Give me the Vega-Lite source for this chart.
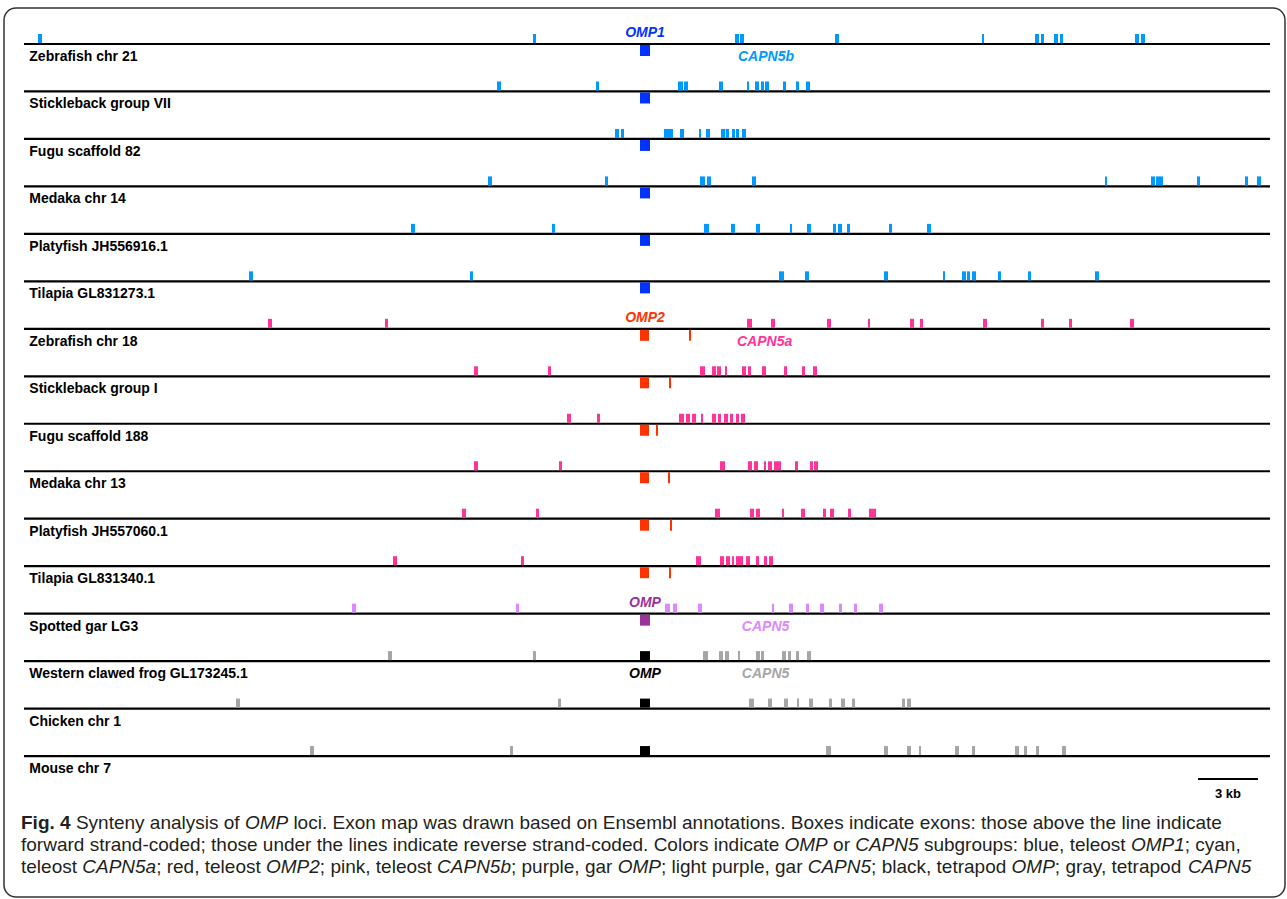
{
  "$schema": "https://vega.github.io/schema/vega-lite/v6.json",
  "width": 1287,
  "height": 899,
  "autosize": {"type": "fit", "contains": "padding"},
  "padding": {"left": 4, "top": 8, "right": 2, "bottom": 2},
  "background": "white",
  "config": {
    "view": {"stroke": "#333333", "strokeWidth": 1.5, "cornerRadius": 12},
    "font": "Liberation Sans"
  },
  "datasets": {
    "tracks": [
      {"t": 0, "name": "Zebrafish chr 21", "a": -31.05, "b": 31.25},
      {"t": 1, "name": "Stickleback group VII", "a": -31.05, "b": 31.25},
      {"t": 2, "name": "Fugu scaffold 82", "a": -31.05, "b": 31.25},
      {"t": 3, "name": "Medaka chr 14", "a": -31.05, "b": 31.25},
      {"t": 4, "name": "Platyfish JH556916.1", "a": -31.05, "b": 31.25},
      {"t": 5, "name": "Tilapia GL831273.1", "a": -31.05, "b": 31.25},
      {"t": 6, "name": "Zebrafish chr 18", "a": -31.05, "b": 31.25},
      {"t": 7, "name": "Stickleback group I", "a": -31.05, "b": 31.25},
      {"t": 8, "name": "Fugu scaffold 188", "a": -31.05, "b": 31.25},
      {"t": 9, "name": "Medaka chr 13", "a": -31.05, "b": 31.25},
      {"t": 10, "name": "Platyfish JH557060.1", "a": -31.05, "b": 31.25},
      {"t": 11, "name": "Tilapia GL831340.1", "a": -31.05, "b": 31.25},
      {"t": 12, "name": "Spotted gar LG3", "a": -31.05, "b": 31.25},
      {"t": 13, "name": "Western clawed frog GL173245.1", "a": -31.05, "b": 31.25},
      {"t": 14, "name": "Chicken chr 1", "a": -31.05, "b": 31.25},
      {"t": 15, "name": "Mouse chr 7", "a": -31.05, "b": 31.25}
    ],
    "exons": [
      {"t":0,"s":-30.35,"e":-30.15,"g":"CAPN5b","d":"f"},{"t":0,"s":-5.6,"e":-5.45,"g":"CAPN5b","d":"f"},{"t":0,"s":4.5,"e":4.7,"g":"CAPN5b","d":"f"},{"t":0,"s":4.75,"e":4.95,"g":"CAPN5b","d":"f"},{"t":0,"s":9.5,"e":9.7,"g":"CAPN5b","d":"f"},{"t":0,"s":16.85,"e":16.95,"g":"CAPN5b","d":"f"},{"t":0,"s":19.5,"e":19.7,"g":"CAPN5b","d":"f"},{"t":0,"s":19.8,"e":19.95,"g":"CAPN5b","d":"f"},{"t":0,"s":20.45,"e":20.65,"g":"CAPN5b","d":"f"},{"t":0,"s":20.75,"e":20.9,"g":"CAPN5b","d":"f"},{"t":0,"s":24.5,"e":24.7,"g":"CAPN5b","d":"f"},{"t":0,"s":24.8,"e":25.0,"g":"CAPN5b","d":"f"},{"t":0,"s":-0.25,"e":0.25,"g":"OMP1","d":"r"},
      {"t":1,"s":-7.4,"e":-7.2,"g":"CAPN5b","d":"f"},{"t":1,"s":-2.45,"e":-2.3,"g":"CAPN5b","d":"f"},{"t":1,"s":1.65,"e":1.9,"g":"CAPN5b","d":"f"},{"t":1,"s":1.95,"e":2.15,"g":"CAPN5b","d":"f"},{"t":1,"s":3.7,"e":3.9,"g":"CAPN5b","d":"f"},{"t":1,"s":5.1,"e":5.2,"g":"CAPN5b","d":"f"},{"t":1,"s":5.5,"e":5.7,"g":"CAPN5b","d":"f"},{"t":1,"s":5.8,"e":5.95,"g":"CAPN5b","d":"f"},{"t":1,"s":6.0,"e":6.2,"g":"CAPN5b","d":"f"},{"t":1,"s":6.9,"e":7.05,"g":"CAPN5b","d":"f"},{"t":1,"s":7.55,"e":7.7,"g":"CAPN5b","d":"f"},{"t":1,"s":8.05,"e":8.25,"g":"CAPN5b","d":"f"},{"t":1,"s":-0.25,"e":0.25,"g":"OMP1","d":"r"},
      {"t":2,"s":-1.5,"e":-1.3,"g":"CAPN5b","d":"f"},{"t":2,"s":-1.2,"e":-1.05,"g":"CAPN5b","d":"f"},{"t":2,"s":0.95,"e":1.4,"g":"CAPN5b","d":"f"},{"t":2,"s":1.75,"e":1.95,"g":"CAPN5b","d":"f"},{"t":2,"s":2.7,"e":2.8,"g":"CAPN5b","d":"f"},{"t":2,"s":3.05,"e":3.25,"g":"CAPN5b","d":"f"},{"t":2,"s":3.8,"e":4.0,"g":"CAPN5b","d":"f"},{"t":2,"s":4.03,"e":4.2,"g":"CAPN5b","d":"f"},{"t":2,"s":4.35,"e":4.5,"g":"CAPN5b","d":"f"},{"t":2,"s":4.55,"e":4.7,"g":"CAPN5b","d":"f"},{"t":2,"s":4.85,"e":5.05,"g":"CAPN5b","d":"f"},{"t":2,"s":-0.25,"e":0.25,"g":"OMP1","d":"r"},
      {"t":3,"s":-7.85,"e":-7.65,"g":"CAPN5b","d":"f"},{"t":3,"s":-2.0,"e":-1.85,"g":"CAPN5b","d":"f"},{"t":3,"s":2.75,"e":3.0,"g":"CAPN5b","d":"f"},{"t":3,"s":3.1,"e":3.3,"g":"CAPN5b","d":"f"},{"t":3,"s":5.35,"e":5.55,"g":"CAPN5b","d":"f"},{"t":3,"s":23.0,"e":23.1,"g":"CAPN5b","d":"f"},{"t":3,"s":25.3,"e":25.5,"g":"CAPN5b","d":"f"},{"t":3,"s":25.55,"e":25.9,"g":"CAPN5b","d":"f"},{"t":3,"s":27.6,"e":27.75,"g":"CAPN5b","d":"f"},{"t":3,"s":30.0,"e":30.15,"g":"CAPN5b","d":"f"},{"t":3,"s":30.6,"e":30.8,"g":"CAPN5b","d":"f"},{"t":3,"s":-0.25,"e":0.25,"g":"OMP1","d":"r"},
      {"t":4,"s":-11.7,"e":-11.5,"g":"CAPN5b","d":"f"},{"t":4,"s":-4.65,"e":-4.5,"g":"CAPN5b","d":"f"},{"t":4,"s":2.95,"e":3.2,"g":"CAPN5b","d":"f"},{"t":4,"s":4.3,"e":4.5,"g":"CAPN5b","d":"f"},{"t":4,"s":5.55,"e":5.75,"g":"CAPN5b","d":"f"},{"t":4,"s":7.25,"e":7.35,"g":"CAPN5b","d":"f"},{"t":4,"s":8.1,"e":8.3,"g":"CAPN5b","d":"f"},{"t":4,"s":9.4,"e":9.55,"g":"CAPN5b","d":"f"},{"t":4,"s":9.65,"e":9.85,"g":"CAPN5b","d":"f"},{"t":4,"s":10.1,"e":10.25,"g":"CAPN5b","d":"f"},{"t":4,"s":12.2,"e":12.35,"g":"CAPN5b","d":"f"},{"t":4,"s":14.1,"e":14.3,"g":"CAPN5b","d":"f"},{"t":4,"s":-0.25,"e":0.25,"g":"OMP1","d":"r"},
      {"t":5,"s":-19.8,"e":-19.6,"g":"CAPN5b","d":"f"},{"t":5,"s":-8.75,"e":-8.6,"g":"CAPN5b","d":"f"},{"t":5,"s":6.7,"e":6.95,"g":"CAPN5b","d":"f"},{"t":5,"s":8.0,"e":8.2,"g":"CAPN5b","d":"f"},{"t":5,"s":11.95,"e":12.15,"g":"CAPN5b","d":"f"},{"t":5,"s":14.9,"e":15.0,"g":"CAPN5b","d":"f"},{"t":5,"s":15.85,"e":16.05,"g":"CAPN5b","d":"f"},{"t":5,"s":16.1,"e":16.25,"g":"CAPN5b","d":"f"},{"t":5,"s":16.35,"e":16.55,"g":"CAPN5b","d":"f"},{"t":5,"s":17.65,"e":17.8,"g":"CAPN5b","d":"f"},{"t":5,"s":19.15,"e":19.3,"g":"CAPN5b","d":"f"},{"t":5,"s":22.5,"e":22.7,"g":"CAPN5b","d":"f"},{"t":5,"s":-0.25,"e":0.25,"g":"OMP1","d":"r"},
      {"t":6,"s":-18.85,"e":-18.65,"g":"CAPN5a","d":"f"},{"t":6,"s":-13.0,"e":-12.85,"g":"CAPN5a","d":"f"},{"t":6,"s":5.1,"e":5.35,"g":"CAPN5a","d":"f"},{"t":6,"s":6.3,"e":6.5,"g":"CAPN5a","d":"f"},{"t":6,"s":9.1,"e":9.3,"g":"CAPN5a","d":"f"},{"t":6,"s":11.15,"e":11.25,"g":"CAPN5a","d":"f"},{"t":6,"s":13.25,"e":13.45,"g":"CAPN5a","d":"f"},{"t":6,"s":13.75,"e":13.9,"g":"CAPN5a","d":"f"},{"t":6,"s":16.9,"e":17.1,"g":"CAPN5a","d":"f"},{"t":6,"s":19.8,"e":19.95,"g":"CAPN5a","d":"f"},{"t":6,"s":21.2,"e":21.35,"g":"CAPN5a","d":"f"},{"t":6,"s":24.25,"e":24.45,"g":"CAPN5a","d":"f"},{"t":6,"s":-0.25,"e":0.2,"g":"OMP2","d":"r"},{"t":6,"s":2.2,"e":2.3,"g":"OMP2","d":"r"},
      {"t":7,"s":-8.55,"e":-8.35,"g":"CAPN5a","d":"f"},{"t":7,"s":-4.85,"e":-4.7,"g":"CAPN5a","d":"f"},{"t":7,"s":2.75,"e":3.0,"g":"CAPN5a","d":"f"},{"t":7,"s":3.35,"e":3.55,"g":"CAPN5a","d":"f"},{"t":7,"s":3.6,"e":3.8,"g":"CAPN5a","d":"f"},{"t":7,"s":4.0,"e":4.1,"g":"CAPN5a","d":"f"},{"t":7,"s":4.85,"e":5.05,"g":"CAPN5a","d":"f"},{"t":7,"s":5.15,"e":5.3,"g":"CAPN5a","d":"f"},{"t":7,"s":5.85,"e":6.05,"g":"CAPN5a","d":"f"},{"t":7,"s":6.95,"e":7.1,"g":"CAPN5a","d":"f"},{"t":7,"s":7.85,"e":8.0,"g":"CAPN5a","d":"f"},{"t":7,"s":8.4,"e":8.6,"g":"CAPN5a","d":"f"},{"t":7,"s":-0.25,"e":0.2,"g":"OMP2","d":"r"},{"t":7,"s":1.2,"e":1.3,"g":"OMP2","d":"r"},
      {"t":8,"s":-3.9,"e":-3.7,"g":"CAPN5a","d":"f"},{"t":8,"s":-2.4,"e":-2.25,"g":"CAPN5a","d":"f"},{"t":8,"s":1.7,"e":1.95,"g":"CAPN5a","d":"f"},{"t":8,"s":2.05,"e":2.25,"g":"CAPN5a","d":"f"},{"t":8,"s":2.35,"e":2.55,"g":"CAPN5a","d":"f"},{"t":8,"s":2.8,"e":2.9,"g":"CAPN5a","d":"f"},{"t":8,"s":3.35,"e":3.55,"g":"CAPN5a","d":"f"},{"t":8,"s":3.65,"e":3.8,"g":"CAPN5a","d":"f"},{"t":8,"s":3.95,"e":4.15,"g":"CAPN5a","d":"f"},{"t":8,"s":4.25,"e":4.4,"g":"CAPN5a","d":"f"},{"t":8,"s":4.55,"e":4.7,"g":"CAPN5a","d":"f"},{"t":8,"s":4.8,"e":5.0,"g":"CAPN5a","d":"f"},{"t":8,"s":-0.25,"e":0.2,"g":"OMP2","d":"r"},{"t":8,"s":0.55,"e":0.65,"g":"OMP2","d":"r"},
      {"t":9,"s":-8.55,"e":-8.35,"g":"CAPN5a","d":"f"},{"t":9,"s":-4.3,"e":-4.15,"g":"CAPN5a","d":"f"},{"t":9,"s":3.75,"e":4.0,"g":"CAPN5a","d":"f"},{"t":9,"s":5.15,"e":5.35,"g":"CAPN5a","d":"f"},{"t":9,"s":5.45,"e":5.65,"g":"CAPN5a","d":"f"},{"t":9,"s":5.95,"e":6.05,"g":"CAPN5a","d":"f"},{"t":9,"s":6.15,"e":6.35,"g":"CAPN5a","d":"f"},{"t":9,"s":6.45,"e":6.8,"g":"CAPN5a","d":"f"},{"t":9,"s":7.5,"e":7.65,"g":"CAPN5a","d":"f"},{"t":9,"s":8.25,"e":8.4,"g":"CAPN5a","d":"f"},{"t":9,"s":8.45,"e":8.65,"g":"CAPN5a","d":"f"},{"t":9,"s":-0.25,"e":0.2,"g":"OMP2","d":"r"},{"t":9,"s":1.15,"e":1.25,"g":"OMP2","d":"r"},
      {"t":10,"s":-9.15,"e":-8.95,"g":"CAPN5a","d":"f"},{"t":10,"s":-5.45,"e":-5.3,"g":"CAPN5a","d":"f"},{"t":10,"s":3.5,"e":3.75,"g":"CAPN5a","d":"f"},{"t":10,"s":5.25,"e":5.45,"g":"CAPN5a","d":"f"},{"t":10,"s":5.55,"e":5.75,"g":"CAPN5a","d":"f"},{"t":10,"s":6.85,"e":6.95,"g":"CAPN5a","d":"f"},{"t":10,"s":7.8,"e":8.0,"g":"CAPN5a","d":"f"},{"t":10,"s":8.9,"e":9.05,"g":"CAPN5a","d":"f"},{"t":10,"s":9.25,"e":9.45,"g":"CAPN5a","d":"f"},{"t":10,"s":10.15,"e":10.3,"g":"CAPN5a","d":"f"},{"t":10,"s":11.2,"e":11.55,"g":"CAPN5a","d":"f"},{"t":10,"s":-0.25,"e":0.2,"g":"OMP2","d":"r"},{"t":10,"s":1.25,"e":1.35,"g":"OMP2","d":"r"},
      {"t":11,"s":-12.6,"e":-12.4,"g":"CAPN5a","d":"f"},{"t":11,"s":-6.2,"e":-6.05,"g":"CAPN5a","d":"f"},{"t":11,"s":2.55,"e":2.8,"g":"CAPN5a","d":"f"},{"t":11,"s":3.75,"e":3.95,"g":"CAPN5a","d":"f"},{"t":11,"s":4.05,"e":4.25,"g":"CAPN5a","d":"f"},{"t":11,"s":4.35,"e":4.45,"g":"CAPN5a","d":"f"},{"t":11,"s":4.55,"e":4.9,"g":"CAPN5a","d":"f"},{"t":11,"s":5.05,"e":5.25,"g":"CAPN5a","d":"f"},{"t":11,"s":5.55,"e":5.7,"g":"CAPN5a","d":"f"},{"t":11,"s":5.95,"e":6.1,"g":"CAPN5a","d":"f"},{"t":11,"s":6.2,"e":6.4,"g":"CAPN5a","d":"f"},{"t":11,"s":-0.25,"e":0.2,"g":"OMP2","d":"r"},{"t":11,"s":1.2,"e":1.3,"g":"OMP2","d":"r"},
      {"t":12,"s":-14.65,"e":-14.45,"g":"garCAPN5","d":"f"},{"t":12,"s":-6.45,"e":-6.3,"g":"garCAPN5","d":"f"},{"t":12,"s":1.0,"e":1.25,"g":"garCAPN5","d":"f"},{"t":12,"s":1.4,"e":1.6,"g":"garCAPN5","d":"f"},{"t":12,"s":2.65,"e":2.85,"g":"garCAPN5","d":"f"},{"t":12,"s":6.35,"e":6.45,"g":"garCAPN5","d":"f"},{"t":12,"s":7.2,"e":7.4,"g":"garCAPN5","d":"f"},{"t":12,"s":8.05,"e":8.2,"g":"garCAPN5","d":"f"},{"t":12,"s":8.75,"e":8.95,"g":"garCAPN5","d":"f"},{"t":12,"s":9.7,"e":9.85,"g":"garCAPN5","d":"f"},{"t":12,"s":10.45,"e":10.6,"g":"garCAPN5","d":"f"},{"t":12,"s":11.7,"e":11.9,"g":"garCAPN5","d":"f"},{"t":12,"s":-0.25,"e":0.25,"g":"garOMP","d":"r"},
      {"t":13,"s":-12.85,"e":-12.65,"g":"tetCAPN5","d":"f"},{"t":13,"s":-5.6,"e":-5.45,"g":"tetCAPN5","d":"f"},{"t":13,"s":2.9,"e":3.15,"g":"tetCAPN5","d":"f"},{"t":13,"s":3.7,"e":3.9,"g":"tetCAPN5","d":"f"},{"t":13,"s":4.0,"e":4.2,"g":"tetCAPN5","d":"f"},{"t":13,"s":4.65,"e":4.75,"g":"tetCAPN5","d":"f"},{"t":13,"s":5.55,"e":5.75,"g":"tetCAPN5","d":"f"},{"t":13,"s":5.8,"e":5.95,"g":"tetCAPN5","d":"f"},{"t":13,"s":6.85,"e":7.05,"g":"tetCAPN5","d":"f"},{"t":13,"s":7.15,"e":7.3,"g":"tetCAPN5","d":"f"},{"t":13,"s":7.55,"e":7.7,"g":"tetCAPN5","d":"f"},{"t":13,"s":8.1,"e":8.3,"g":"tetCAPN5","d":"f"},{"t":13,"s":-0.25,"e":0.25,"g":"tetOMP","d":"f"},
      {"t":14,"s":-20.45,"e":-20.25,"g":"tetCAPN5","d":"f"},{"t":14,"s":-4.35,"e":-4.2,"g":"tetCAPN5","d":"f"},{"t":14,"s":5.2,"e":5.45,"g":"tetCAPN5","d":"f"},{"t":14,"s":6.15,"e":6.35,"g":"tetCAPN5","d":"f"},{"t":14,"s":6.95,"e":7.15,"g":"tetCAPN5","d":"f"},{"t":14,"s":7.6,"e":7.7,"g":"tetCAPN5","d":"f"},{"t":14,"s":8.2,"e":8.4,"g":"tetCAPN5","d":"f"},{"t":14,"s":9.2,"e":9.35,"g":"tetCAPN5","d":"f"},{"t":14,"s":9.8,"e":10.0,"g":"tetCAPN5","d":"f"},{"t":14,"s":10.35,"e":10.5,"g":"tetCAPN5","d":"f"},{"t":14,"s":12.85,"e":13.0,"g":"tetCAPN5","d":"f"},{"t":14,"s":13.1,"e":13.3,"g":"tetCAPN5","d":"f"},{"t":14,"s":-0.25,"e":0.25,"g":"tetOMP","d":"f"},
      {"t":15,"s":-16.75,"e":-16.55,"g":"tetCAPN5","d":"f"},{"t":15,"s":-6.75,"e":-6.6,"g":"tetCAPN5","d":"f"},{"t":15,"s":9.05,"e":9.3,"g":"tetCAPN5","d":"f"},{"t":15,"s":11.95,"e":12.15,"g":"tetCAPN5","d":"f"},{"t":15,"s":13.1,"e":13.3,"g":"tetCAPN5","d":"f"},{"t":15,"s":13.7,"e":13.8,"g":"tetCAPN5","d":"f"},{"t":15,"s":15.5,"e":15.7,"g":"tetCAPN5","d":"f"},{"t":15,"s":16.35,"e":16.5,"g":"tetCAPN5","d":"f"},{"t":15,"s":18.5,"e":18.7,"g":"tetCAPN5","d":"f"},{"t":15,"s":18.95,"e":19.1,"g":"tetCAPN5","d":"f"},{"t":15,"s":19.55,"e":19.7,"g":"tetCAPN5","d":"f"},{"t":15,"s":20.85,"e":21.05,"g":"tetCAPN5","d":"f"},{"t":15,"s":-0.25,"e":0.25,"g":"tetOMP","d":"f"}
    ],
    "genes": [
      {"t": 0, "x": 0, "label": "OMP1", "g": "OMP1", "p": "a"},
      {"t": 0, "x": 6.05, "label": "CAPN5b", "g": "CAPN5b", "p": "b"},
      {"t": 6, "x": 0, "label": "OMP2", "g": "OMP2", "p": "a"},
      {"t": 6, "x": 5.98, "label": "CAPN5a", "g": "CAPN5a", "p": "b"},
      {"t": 12, "x": 0, "label": "OMP", "g": "garOMP", "p": "a"},
      {"t": 12, "x": 6.03, "label": "CAPN5", "g": "garCAPN5", "p": "b"},
      {"t": 13, "x": 0, "label": "OMP", "g": "tetOMP", "p": "b"},
      {"t": 13, "x": 6.03, "label": "CAPN5", "g": "tetCAPN5", "p": "b"}
    ],
    "scalebar": [
      {"a": 27.65, "b": 30.65, "x": 29.15, "y": 15.483, "label": "3 kb"}
    ],
    "caption": [
      {"x": -31.2, "y": 16.537, "text": "Fig. 4", "f": "b"},
      {"x": -28.455, "y": 16.537, "text": "Synteny analysis of", "f": "n"},
      {"x": -20.005, "y": 16.537, "text": "OMP", "f": "i"},
      {"x": -17.58, "y": 16.537, "text": "loci. Exon map was drawn based on Ensembl annotations. Boxes indicate exons: those above the line indicate", "f": "n"},
      {"x": -31.2, "y": 17.0, "text": "forward strand-coded; those under the lines indicate reverse strand-coded. Colors indicate", "f": "n"},
      {"x": 6.975, "y": 17.0, "text": "OMP", "f": "i"},
      {"x": 9.405, "y": 17.0, "text": "or", "f": "n"},
      {"x": 10.51, "y": 17.0, "text": "CAPN5", "f": "i"},
      {"x": 13.945, "y": 17.0, "text": "subgroups: blue, teleost", "f": "n"},
      {"x": 24.295, "y": 17.0, "text": "OMP1", "f": "i"},
      {"x": 26.985, "y": 17.0, "text": "; cyan,", "f": "n"},
      {"x": -31.2, "y": 17.464, "text": "teleost", "f": "n"},
      {"x": -28.137, "y": 17.464, "text": "CAPN5a", "f": "i"},
      {"x": -24.4415, "y": 17.464, "text": "; red, teleost", "f": "n"},
      {"x": -18.95, "y": 17.464, "text": "OMP2", "f": "i"},
      {"x": -16.2575, "y": 17.464, "text": "; pink, teleost", "f": "n"},
      {"x": -10.396, "y": 17.464, "text": "CAPN5b", "f": "i"},
      {"x": -6.7, "y": 17.464, "text": "; purple, gar", "f": "n"},
      {"x": -1.367, "y": 17.464, "text": "OMP", "f": "i"},
      {"x": 0.797, "y": 17.464, "text": "; light purple, gar", "f": "n"},
      {"x": 8.1365, "y": 17.464, "text": "CAPN5", "f": "i"},
      {"x": 11.304, "y": 17.464, "text": "; black, tetrapod", "f": "n"},
      {"x": 18.3275, "y": 17.464, "text": "OMP", "f": "i"},
      {"x": 20.4915, "y": 17.464, "text": "; gray, tetrapod", "f": "n"},
      {"x": 27.145, "y": 17.464, "text": "CAPN5", "f": "i"}
    ]
  },
  "layer": [
    {
      "data": {"name": "tracks"},
      "mark": {"type": "rule", "color": "#000000", "strokeWidth": 2.2},
      "encoding": {
        "x": {"field": "a", "type": "quantitative", "scale": {"domain": [-32.05, 32.0], "nice": false, "zero": false}, "axis": null},
        "x2": {"field": "b"},
        "y": {"field": "t", "type": "quantitative", "scale": {"domain": [-0.7584, 17.969], "nice": false, "zero": false, "reverse": true}, "axis": null}
      }
    },
    {
      "data": {"name": "tracks"},
      "mark": {"type": "text", "align": "left", "baseline": "alphabetic", "dx": 5.3, "dy": 17, "fontSize": 14, "fontWeight": "bold", "font": "Liberation Sans", "color": "#000000"},
      "encoding": {
        "x": {"field": "a", "type": "quantitative", "scale": {"domain": [-32.05, 32.0], "nice": false, "zero": false}, "axis": null},
        "y": {"field": "t", "type": "quantitative", "scale": {"domain": [-0.7584, 17.969], "nice": false, "zero": false, "reverse": true}, "axis": null},
        "text": {"field": "name"}
      }
    },
    {
      "data": {"name": "exons"},
      "transform": [{"filter": "datum.d === 'f'"}],
      "mark": {"type": "rect", "yOffset": -10, "y2Offset": -1},
      "encoding": {
        "x": {"field": "s", "type": "quantitative", "scale": {"domain": [-32.05, 32.0], "nice": false, "zero": false}, "axis": null},
        "x2": {"field": "e"},
        "y": {"field": "t", "type": "quantitative", "scale": {"domain": [-0.7584, 17.969], "nice": false, "zero": false, "reverse": true}, "axis": null},
        "y2": {"field": "t"},
        "color": {"field": "g", "type": "nominal", "legend": null, "scale": {"domain": ["OMP1", "CAPN5b", "OMP2", "CAPN5a", "garOMP", "garCAPN5", "tetOMP", "tetCAPN5"], "range": ["#0033FF", "#0099FF", "#FF3300", "#FF3399", "#993399", "#DD88FF", "#000000", "#A6A6A6"]}}
      }
    },
    {
      "data": {"name": "exons"},
      "transform": [{"filter": "datum.d === 'r'"}],
      "mark": {"type": "rect", "yOffset": 1, "y2Offset": 12},
      "encoding": {
        "x": {"field": "s", "type": "quantitative", "scale": {"domain": [-32.05, 32.0], "nice": false, "zero": false}, "axis": null},
        "x2": {"field": "e"},
        "y": {"field": "t", "type": "quantitative", "scale": {"domain": [-0.7584, 17.969], "nice": false, "zero": false, "reverse": true}, "axis": null},
        "y2": {"field": "t"},
        "color": {"field": "g", "type": "nominal", "legend": null, "scale": {"domain": ["OMP1", "CAPN5b", "OMP2", "CAPN5a", "garOMP", "garCAPN5", "tetOMP", "tetCAPN5"], "range": ["#0033FF", "#0099FF", "#FF3300", "#FF3399", "#993399", "#DD88FF", "#000000", "#A6A6A6"]}}
      }
    },
    {
      "data": {"name": "genes"},
      "transform": [{"filter": "datum.p === 'a'"}],
      "mark": {"type": "text", "align": "center", "baseline": "alphabetic", "dy": -7, "fontSize": 14, "fontWeight": "bold", "fontStyle": "italic", "font": "Liberation Sans"},
      "encoding": {
        "x": {"field": "x", "type": "quantitative", "scale": {"domain": [-32.05, 32.0], "nice": false, "zero": false}, "axis": null},
        "y": {"field": "t", "type": "quantitative", "scale": {"domain": [-0.7584, 17.969], "nice": false, "zero": false, "reverse": true}, "axis": null},
        "text": {"field": "label"},
        "color": {"field": "g", "type": "nominal", "legend": null, "scale": {"domain": ["OMP1", "CAPN5b", "OMP2", "CAPN5a", "garOMP", "garCAPN5", "tetOMP", "tetCAPN5"], "range": ["#0033FF", "#0099FF", "#FF3300", "#FF3399", "#993399", "#DD88FF", "#000000", "#A6A6A6"]}}
      }
    },
    {
      "data": {"name": "genes"},
      "transform": [{"filter": "datum.p === 'b'"}],
      "mark": {"type": "text", "align": "center", "baseline": "alphabetic", "dy": 17, "fontSize": 14, "fontWeight": "bold", "fontStyle": "italic", "font": "Liberation Sans"},
      "encoding": {
        "x": {"field": "x", "type": "quantitative", "scale": {"domain": [-32.05, 32.0], "nice": false, "zero": false}, "axis": null},
        "y": {"field": "t", "type": "quantitative", "scale": {"domain": [-0.7584, 17.969], "nice": false, "zero": false, "reverse": true}, "axis": null},
        "text": {"field": "label"},
        "color": {"field": "g", "type": "nominal", "legend": null, "scale": {"domain": ["OMP1", "CAPN5b", "OMP2", "CAPN5a", "garOMP", "garCAPN5", "tetOMP", "tetCAPN5"], "range": ["#0033FF", "#0099FF", "#FF3300", "#FF3399", "#993399", "#DD88FF", "#000000", "#A6A6A6"]}}
      }
    },
    {
      "data": {"name": "scalebar"},
      "mark": {"type": "rule", "color": "#000000", "strokeWidth": 2},
      "encoding": {
        "x": {"field": "a", "type": "quantitative", "scale": {"domain": [-32.05, 32.0], "nice": false, "zero": false}, "axis": null},
        "x2": {"field": "b"},
        "y": {"field": "y", "type": "quantitative", "scale": {"domain": [-0.7584, 17.969], "nice": false, "zero": false, "reverse": true}, "axis": null}
      }
    },
    {
      "data": {"name": "scalebar"},
      "mark": {"type": "text", "align": "center", "baseline": "alphabetic", "dy": 19, "fontSize": 13, "fontWeight": "bold", "font": "Liberation Sans", "color": "#000000"},
      "encoding": {
        "x": {"field": "x", "type": "quantitative", "scale": {"domain": [-32.05, 32.0], "nice": false, "zero": false}, "axis": null},
        "y": {"field": "y", "type": "quantitative", "scale": {"domain": [-0.7584, 17.969], "nice": false, "zero": false, "reverse": true}, "axis": null},
        "text": {"field": "label"}
      }
    },
    {
      "data": {"name": "caption"},
      "transform": [{"filter": "datum.f === 'n'"}],
      "mark": {"type": "text", "align": "left", "baseline": "alphabetic", "fontSize": 19, "font": "Liberation Sans", "color": "#231F20"},
      "encoding": {
        "x": {"field": "x", "type": "quantitative", "scale": {"domain": [-32.05, 32.0], "nice": false, "zero": false}, "axis": null},
        "y": {"field": "y", "type": "quantitative", "scale": {"domain": [-0.7584, 17.969], "nice": false, "zero": false, "reverse": true}, "axis": null},
        "text": {"field": "text"}
      }
    },
    {
      "data": {"name": "caption"},
      "transform": [{"filter": "datum.f === 'b'"}],
      "mark": {"type": "text", "align": "left", "baseline": "alphabetic", "fontSize": 19, "fontWeight": "bold", "font": "Liberation Sans", "color": "#231F20"},
      "encoding": {
        "x": {"field": "x", "type": "quantitative", "scale": {"domain": [-32.05, 32.0], "nice": false, "zero": false}, "axis": null},
        "y": {"field": "y", "type": "quantitative", "scale": {"domain": [-0.7584, 17.969], "nice": false, "zero": false, "reverse": true}, "axis": null},
        "text": {"field": "text"}
      }
    },
    {
      "data": {"name": "caption"},
      "transform": [{"filter": "datum.f === 'i'"}],
      "mark": {"type": "text", "align": "left", "baseline": "alphabetic", "fontSize": 19, "fontStyle": "italic", "font": "Liberation Sans", "color": "#231F20"},
      "encoding": {
        "x": {"field": "x", "type": "quantitative", "scale": {"domain": [-32.05, 32.0], "nice": false, "zero": false}, "axis": null},
        "y": {"field": "y", "type": "quantitative", "scale": {"domain": [-0.7584, 17.969], "nice": false, "zero": false, "reverse": true}, "axis": null},
        "text": {"field": "text"}
      }
    }
  ]
}
